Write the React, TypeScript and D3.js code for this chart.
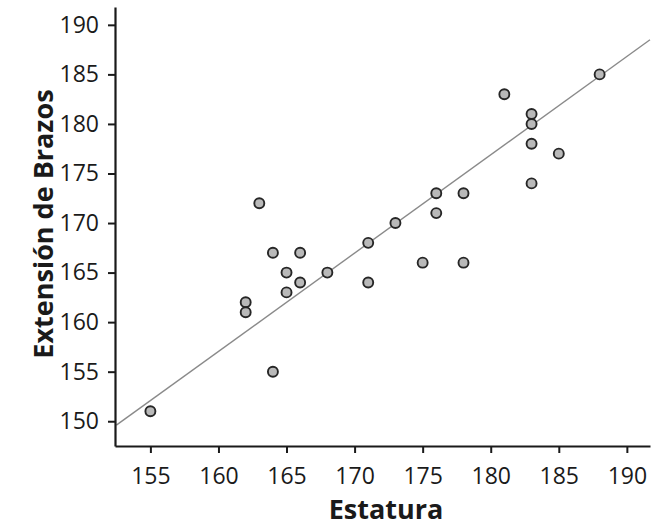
import * as d3 from 'd3'
import { useEffect, useRef } from 'react'

// estatura (x) vs extension de brazos (y)
const estatura = [155, 162, 162, 163, 164, 164, 165, 165, 166, 166, 168, 171, 171, 173, 175, 176, 176, 178, 178, 181, 183, 183, 183, 183, 185, 188]
const brazos = [151, 162, 161, 172, 167, 155, 165, 163, 167, 164, 165, 168, 164, 170, 166, 173, 171, 173, 166, 183, 181, 180, 178, 174, 177, 185]

const xTicks = [155, 160, 165, 170, 175, 180, 185, 190]
const yTicks = [150, 155, 160, 165, 170, 175, 180, 185, 190]

// fitted line end points
const fitX = [152.5, 191.7]
const fitY = [149.6, 188.5]

const W = 656
const H = 527

export default function App() {
    const svgRef = useRef<SVGSVGElement>(null)

    useEffect(() => {
        const svg = d3.select(svgRef.current)
        svg.selectAll('*').remove()

        const x = d3.scaleLinear().domain([152.4, 191.7]).range([115, 650])
        const y = d3.scaleLinear().domain([147.5, 191.8]).range([446, 7])

        const font = "'Open Sans', sans-serif"

        // regression line
        const line = d3.line<number>()
            .x((d, i) => x(fitX[i]))
            .y((d) => y(d))
        svg.append('path')
            .datum(fitY)
            .attr('d', line)
            .attr('fill', 'none')
            .attr('stroke', '#8a8a8a')
            .attr('stroke-width', 1.4)

        // points
        svg.append('g')
            .selectAll('circle')
            .data(estatura.map((v, i) => [v, brazos[i]]))
            .join('circle')
            .attr('cx', (d) => x(d[0]))
            .attr('cy', (d) => y(d[1]))
            .attr('r', 5)
            .attr('fill', '#b9b9b9')
            .attr('stroke', '#262626')
            .attr('stroke-width', 1.9)

        const xAxis = svg.append('g')
            .attr('transform', 'translate(0,446)')
            .call(d3.axisBottom(x).tickValues(xTicks).tickSize(7).tickPadding(15).tickSizeOuter(0))
        const yAxis = svg.append('g')
            .attr('transform', 'translate(115,0)')
            .call(d3.axisLeft(y).tickValues(yTicks).tickSize(7).tickPadding(9).tickSizeOuter(0))

        for (const ax of [xAxis, yAxis]) {
            ax.select('.domain').attr('stroke', '#1a1a1a').attr('stroke-width', 2.2)
            ax.selectAll('.tick line').attr('stroke', '#1a1a1a').attr('stroke-width', 2)
            ax.selectAll('.tick text')
                .attr('fill', '#1a1a1a')
                .style('font-family', font)
                .style('font-size', '23px')
        }

        svg.append('text')
            .attr('x', 386)
            .attr('y', 519)
            .attr('text-anchor', 'middle')
            .style('font-family', font)
            .style('font-size', '27px')
            .style('font-weight', 'bold')
            .attr('fill', '#1a1a1a')
            .text('Estatura')

        svg.append('text')
            .attr('transform', 'translate(53,224) rotate(-90)')
            .attr('text-anchor', 'middle')
            .style('font-family', font)
            .style('font-size', '27px')
            .style('font-weight', 'bold')
            .attr('fill', '#1a1a1a')
            .text('Extensión de Brazos')
    }, [])

    return (
        <svg ref={svgRef} width={W} height={H} style={{ position: 'absolute', left: 0, top: 0, background: '#fff' }} />
    )
}
